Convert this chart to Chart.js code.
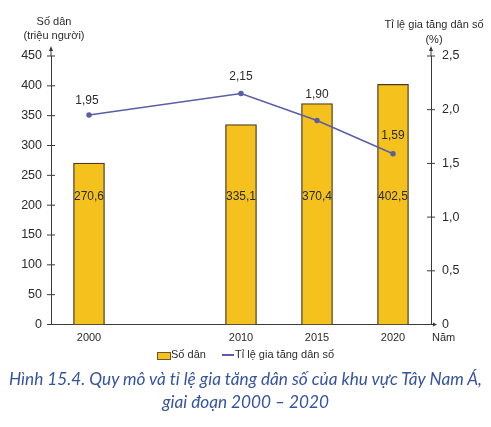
<!DOCTYPE html>
<html>
<head>
<meta charset="utf-8">
<script src="https://cdn.jsdelivr.net/npm/chart.js@4"></script>
<style>
  html, body { margin:0; padding:0; background:#fff; }
  #wrap { position:relative; width:491px; height:427px; overflow:hidden; font-family:"Liberation Sans", Arial, sans-serif; }
  #cv { position:absolute; left:0; top:0; }
  .t { position:absolute; color:#2b2b2b; font-size:11px; white-space:nowrap; }
  #legend { position:absolute; top:348px; left:0; width:491px; height:14px; font-size:11px; color:#2b2b2b; }
  #cap { position:absolute; left:-10px; top:367px; width:511px; text-align:center; font-family:Lato, "Open Sans", sans-serif; font-style:italic; font-size:17.2px; line-height:23px; color:#3553a3; }
</style>
</head>
<body>
<div id="wrap">
  <canvas id="cv" width="491" height="345"></canvas>
  <div class="t" style="left:0;width:108px;text-align:center;top:15px;">Số dân</div>
  <div class="t" style="left:0;width:108px;text-align:center;top:29px;">(triệu người)</div>
  <div class="t" style="left:374px;width:120px;text-align:center;top:18px;">Tỉ lệ gia tăng dân số</div>
  <div class="t" style="left:374px;width:120px;text-align:center;top:33px;">(%)</div>
  <div class="t" style="left:432px;top:331px;">Năm</div>
  <div id="legend">
    <span style="position:absolute;left:157px;top:4px;width:12px;height:6px;background:#f5c11c;border:1px solid #6b5530;"></span>
    <span style="position:absolute;left:171px;top:0;">Số dân</span>
    <span style="position:absolute;left:222px;top:6px;width:12px;height:1.5px;background:#5b5ea6;"></span>
    <span style="position:absolute;left:235px;top:0;">Tỉ lệ gia tăng dân số</span>
  </div>
  <div id="cap">Hình 15.4. Quy mô và tỉ lệ gia tăng dân số của khu vực Tây Nam Á,<br>giai đoạn 2000 – 2020</div>
</div>
<script>
const years = [2000, 2010, 2015, 2020];
const population = [270.6, 335.1, 370.4, 402.5];
const growthRate = [1.95, 2.15, 1.90, 1.59];
const leftTicks = [0, 50, 100, 150, 200, 250, 300, 350, 400, 450];
const rightTicks = [0, 0.5, 1.0, 1.5, 2.0, 2.5];

const fmt = v => (v === 0 ? '0' : v.toFixed(1).replace('.', ','));
const fmt2 = v => v.toFixed(2).replace('.', ',');

const FONT = '"Liberation Sans", Arial, sans-serif';
const AXIS = '#3a3a3a';

const decor = {
  id: 'decor',
  afterDraw(chart) {
    const ctx = chart.ctx;
    const a = chart.chartArea;
    const y = chart.scales.y, y1 = chart.scales.y1;
    ctx.save();
    ctx.strokeStyle = AXIS;
    ctx.fillStyle = AXIS;
    ctx.lineWidth = 1;
    [a.left, a.right].forEach(px => {
      ctx.beginPath();
      ctx.moveTo(px, a.top);
      ctx.lineTo(px, a.top - 8);
      ctx.stroke();
      ctx.beginPath();
      ctx.moveTo(px, a.top - 10);
      ctx.lineTo(px - 2, a.top - 5);
      ctx.lineTo(px + 2, a.top - 5);
      ctx.closePath();
      ctx.fill();
    });
    ctx.beginPath();
    ctx.moveTo(a.right, a.bottom);
    ctx.lineTo(a.right + 4, a.bottom);
    ctx.stroke();
    ctx.beginPath();
    ctx.moveTo(a.right + 6, a.bottom);
    ctx.lineTo(a.right + 2, a.bottom - 2);
    ctx.lineTo(a.right + 2, a.bottom + 2);
    ctx.closePath();
    ctx.fill();
    y.ticks.forEach(t => {
      const py = y.getPixelForValue(t.value);
      ctx.beginPath(); ctx.moveTo(a.left - 4, py); ctx.lineTo(a.left + 4, py); ctx.stroke();
    });
    y1.ticks.forEach(t => {
      const py = y1.getPixelForValue(t.value);
      ctx.beginPath(); ctx.moveTo(a.right - 4, py); ctx.lineTo(a.right + 4, py); ctx.stroke();
    });
    ctx.restore();
  }
};

const labels = {
  id: 'valueLabels',
  afterDatasetsDraw(chart, args, opts) {
    const ctx = chart.ctx;
    ctx.save();
    ctx.font = '12px ' + FONT;
    ctx.fillStyle = '#2b2b2b';
    ctx.textAlign = 'center';
    ctx.textBaseline = 'middle';
    const barMeta = chart.getDatasetMeta(1);
    const yLab = chart.scales.y.getPixelForValue(opts.barLabelValue);
    barMeta.data.forEach((el, i) => {
      ctx.fillText(fmt(population[i]), el.x, yLab);
    });
    const lineMeta = chart.getDatasetMeta(0);
    lineMeta.data.forEach((el, i) => {
      ctx.fillText(fmt2(growthRate[i]), el.x - (i === 0 ? 2 : 0), el.y - opts.lineOffsets[i]);
    });
    ctx.restore();
  }
};

new Chart(document.getElementById('cv'), {
  data: {
    datasets: [
      {
        type: 'line',
        label: 'Tỉ lệ gia tăng dân số',
        data: years.map((yr, i) => ({ x: yr, y: growthRate[i] })),
        yAxisID: 'y1',
        borderColor: '#5b5ea6',
        backgroundColor: '#5b5ea6',
        borderWidth: 1.5,
        pointRadius: 2,
        tension: 0,
        order: 0
      },
      {
        type: 'bar',
        label: 'Số dân',
        data: years.map((yr, i) => ({ x: yr, y: population[i] })),
        yAxisID: 'y',
        backgroundColor: '#f5c11c',
        borderColor: '#4b3b24',
        borderWidth: 1.3,
        barThickness: 31,
        order: 1
      }
    ]
  },
  options: {
    responsive: false,
    animation: false,
    devicePixelRatio: 1,
    layout: { padding: { top: 56, left: 0, right: 0, bottom: 0 } },
    plugins: {
      legend: { display: false },
      tooltip: { enabled: false },
      valueLabels: { barLabelValue: 215, lineOffsets: [14, 17, 26, 18] }
    },
    scales: {
      x: {
        type: 'linear',
        offset: false,
        min: 1997.5,
        max: 2022.5,
        afterBuildTicks: s => { s.ticks = years.map(v => ({ value: v })); },
        afterFit: s => { s.height = 20.5; },
        grid: { display: false, drawTicks: false, offset: false },
        border: { display: true, color: AXIS, width: 1 },
        ticks: { padding: 7, font: { size: 11, family: FONT }, color: '#2b2b2b', callback: v => String(v) }
      },
      y: {
        position: 'left',
        min: 0, max: 450,
        afterBuildTicks: s => { s.ticks = leftTicks.map(v => ({ value: v })); },
        afterFit: s => { s.width = 51; },
        grid: { display: false, drawTicks: false },
        border: { display: true, color: AXIS, width: 1 },
        ticks: { padding: 9, font: { size: 12.5, family: FONT }, color: '#2b2b2b', callback: v => String(v) }
      },
      y1: {
        position: 'right',
        min: 0, max: 2.5,
        afterBuildTicks: s => { s.ticks = rightTicks.map(v => ({ value: v })); },
        afterFit: s => { s.width = 60; },
        grid: { display: false, drawTicks: false },
        border: { display: true, color: AXIS, width: 1 },
        ticks: { padding: 11, font: { size: 12.5, family: FONT }, color: '#2b2b2b', callback: v => fmt(v) }
      }
    }
  },
  plugins: [decor, labels]
});
</script>
</body>
</html>
